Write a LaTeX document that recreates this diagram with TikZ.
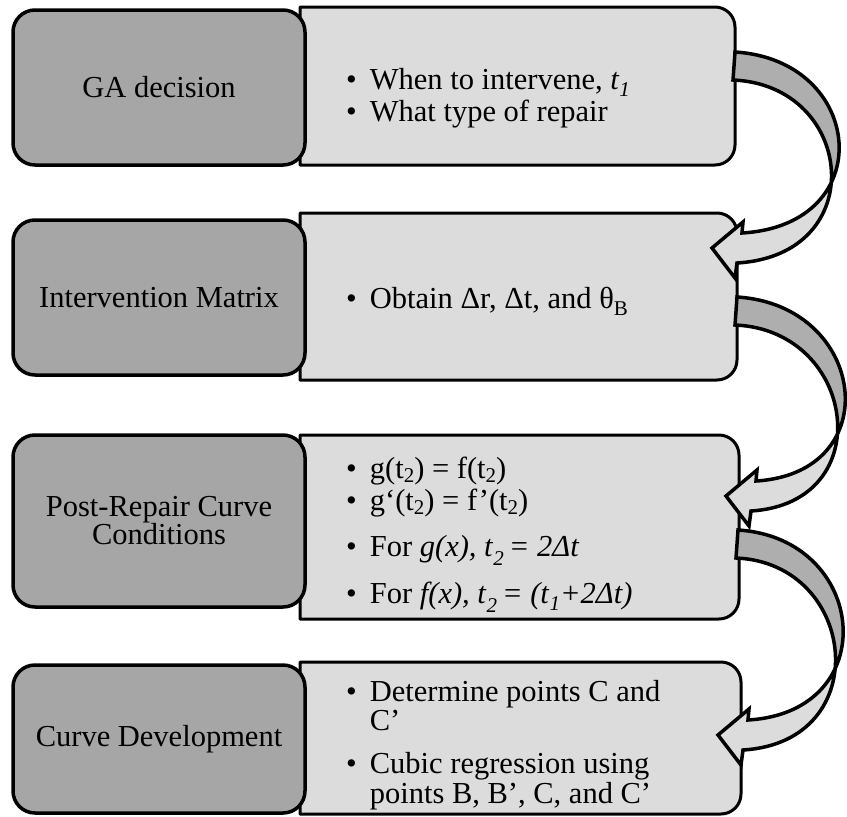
\documentclass[tikz,border=0pt]{standalone}
\usepackage{fontspec}
\setmainfont{Liberation Serif}
\usetikzlibrary{intersections}

\definecolor{stepgray}{HTML}{A6A6A6}
\definecolor{panelgray}{HTML}{DCDCDC}
\definecolor{ribbongray}{HTML}{AEAEAE}

% lowered subscript set in the text font
\newcommand{\lowsub}[2][7pt]{\raisebox{-#1}{\fontsize{21}{21}\selectfont #2}}

\begin{document}
\begin{tikzpicture}[x=1pt, y=-1pt,
  stepbox/.style={draw, line width=3.5pt, fill=stepgray, rounded corners=22pt, align=center, font=\fontsize{30.5}{28}\selectfont},
  panel/.style={draw, line width=3pt, fill=panelgray, line join=round},
  bullets/.style={anchor=base west, inner sep=0pt, font=\fontsize{30.5}{29}\selectfont},
  ribbon/.style={draw, line width=3.5pt, line join=miter}]

\useasboundingbox (0,0) rectangle (847,817);

% Panels on the right (square on the left, round on the right)
\foreach \ya/\yb/\xr in {7/165/735, 213/380/737, 435/619/739, 662/814/741} {
  \draw[panel] (300,\yb) -- (300,\ya) -- (\xr-20,\ya) .. controls (\xr-9,\ya) and (\xr,\ya+9) .. (\xr,\ya+20)
    -- (\xr,\yb-20) .. controls (\xr,\yb-9) and (\xr-9,\yb) .. (\xr-20,\yb) -- cycle;
}

% Steps on the left
\node[stepbox, minimum width=292pt, minimum height=155pt] (decide) at (159,87.5) {GA decision};
\node[stepbox, minimum width=292pt, minimum height=155pt] (interv) at (159,297.5) {Intervention Matrix};
\node[stepbox, minimum width=292pt, minimum height=172pt] (conds) at (159,521) {Post-Repair Curve\\Conditions};
\node[stepbox, minimum width=292pt, minimum height=148pt] (develop) at (159,739) {Curve Development};

% Bullet lists
\node[bullets] (whenlist) at (346,89) {\begin{tabular}[t]{@{}l@{\hspace{13pt}}l@{}}
  \textbullet & When to intervene, \textit{t}\lowsub{\textit{1}}\\[2pt]
  \textbullet & What type of repair
\end{tabular}};

\node[bullets] (obtainlist) at (346,308) {\textbullet\hspace{13pt}Obtain Δr, Δt, and θ\lowsub{B}};

\node[bullets] (condlist) at (346,478) {\begin{tabular}[t]{@{}l@{\hspace{13pt}}l@{}}
  \textbullet & g(t\lowsub[4pt]{2}) = f(t\lowsub[4pt]{2})\\[2pt]
  \textbullet & g‘(t\lowsub[4pt]{2}) = f’(t\lowsub[4pt]{2})\\[16pt]
  \textbullet & For \textit{g(x), t}\lowsub[9pt]{\textit{2}}\,\textit{= 2Δt}\\[17pt]
  \textbullet & For \textit{f(x), t}\lowsub[9pt]{\textit{2}}\,\textit{= (t}\lowsub[7pt]{\textit{1}}\textit{+2Δt)}
\end{tabular}};

\node[bullets] (curvelist) at (346,701) {\begin{tabular}[t]{@{}l@{\hspace{13pt}}l@{}}
  \textbullet & Determine points C and\\
   & C’\\[14pt]
  \textbullet & Cubic regression using\\
   & points B, B’, C, and C’
\end{tabular}};

% Twisted arrows from one panel down to the next
\foreach \sx/\sy/\hx/\hy in {735/52/0/0, 737/297/12/3, 738/530/3/9} {
  \begin{scope}[shift={(\sx,\sy)}]
    \path[name path=upper] (0,0) .. controls (130,8) and (145+\hx/2,173+\hy) .. (7+\hx,181+\hy);
    \path[name path=lower] (-2,28) .. controls (120,33) and (137+\hx/2,203+\hy) .. (2+\hx,211+\hy);
    \path[name intersections={of=upper and lower, by=twist}];
    \path[save path=\ribbonpath] (0,0) .. controls (130,8) and (145+\hx/2,173+\hy) .. (7+\hx,181+\hy)
      -- (8+\hx,170+\hy) -- (-23+\hx,196+\hy) -- (0+\hx,226+\hy) -- (2+\hx,211+\hy)
      .. controls (137+\hx/2,203+\hy) and (120,33) .. (-2,28) -- cycle;
    \fill[panelgray, use path=\ribbonpath];
    % back side of the band, above the twist
    \begin{scope}
      \clip (twist) ++(-300pt,0pt) rectangle ++(400pt,300pt);
      \fill[ribbongray, use path=\ribbonpath];
    \end{scope}
    \path[ribbon, use path=\ribbonpath];
  \end{scope}
}
\end{tikzpicture}
\end{document}
